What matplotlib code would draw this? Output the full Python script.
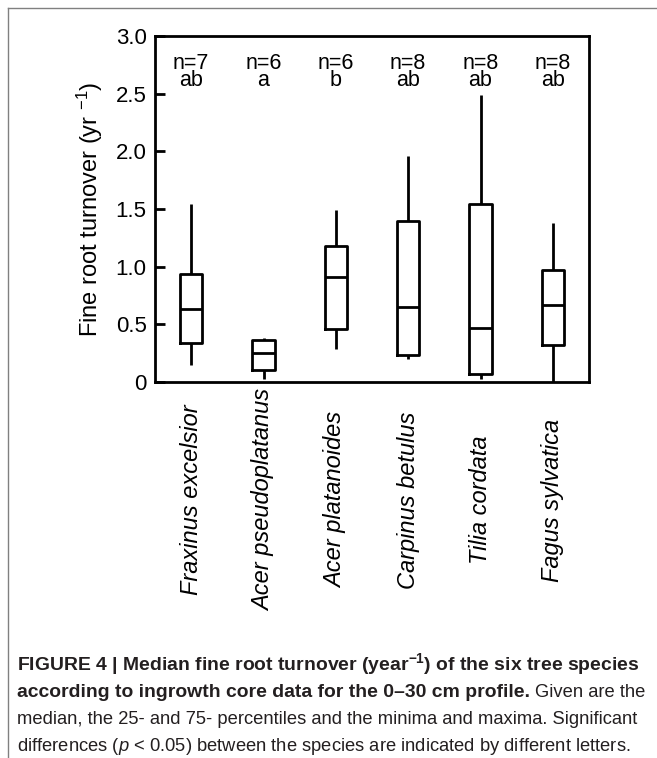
import matplotlib
matplotlib.use('Agg')
import matplotlib.pyplot as plt
from matplotlib import font_manager
from matplotlib.lines import Line2D

# ---------------- data ----------------
species = ['Fraxinus excelsior', 'Acer pseudoplatanus', 'Acer platanoides',
           'Carpinus betulus', 'Tilia cordata', 'Fagus sylvatica']
n_labels = ['n=7', 'n=6', 'n=6', 'n=8', 'n=8', 'n=8']
letters = ['ab', 'a', 'b', 'ab', 'ab', 'ab']
minima = [0.15, 0.03, 0.29, 0.20, 0.03, 0.00]
q25 = [0.34, 0.10, 0.46, 0.23, 0.07, 0.32]
medians = [0.63, 0.25, 0.91, 0.65, 0.47, 0.67]
q75 = [0.94, 0.36, 1.18, 1.40, 1.54, 0.97]
maxima = [1.54, 0.38, 1.49, 1.96, 2.49, 1.38]
yticks = [0, 0.5, 1.0, 1.5, 2.0, 2.5, 3.0]
yticklabels = ['0', '0.5', '1.0', '1.5', '2.0', '2.5', '3.0']

caption_l1 = r'FIGURE 4 | Median fine root turnover (year$^{\mathbf{-1}}$) of the six tree species'
caption_l2_bold = 'according to ingrowth core data for the 0\u201330 cm profile.'
caption_l2_reg = 'Given are the'
caption_l3 = 'median, the 25- and 75- percentiles and the minima and maxima. Significant'
caption_l4 = r'differences ($p$ < 0.05) between the species are indicated by different letters.'

# ---------------- fonts ----------------
names = {f.name for f in font_manager.fontManager.ttflist}
base_font = 'Liberation Sans' if 'Liberation Sans' in names else 'DejaVu Sans'
cap_font = 'Liberation Sans Narrow' if 'Liberation Sans Narrow' in names else base_font

plt.rcParams['font.family'] = [base_font, 'DejaVu Sans']
plt.rcParams['mathtext.fontset'] = 'custom'
plt.rcParams['mathtext.rm'] = base_font
plt.rcParams['mathtext.it'] = cap_font + ':italic'
plt.rcParams['mathtext.bf'] = cap_font + ':bold'

W, H = 657, 758
fig = plt.figure(figsize=(W / 100, H / 100), dpi=100)
ax = fig.add_axes([155 / W, 1 - 382 / H, (589 - 155) / W, (382 - 36) / H])

positions = list(range(1, len(species) + 1))
stats = [dict(whislo=mn, q1=a, med=m, q3=b, whishi=mx, fliers=[])
         for mn, a, m, b, mx in zip(minima, q25, medians, q75, maxima)]
lw = 2.0
ax.bxp(stats, positions=positions, widths=0.31, showfliers=False, showcaps=False,
       boxprops=dict(color='black', linewidth=lw),
       whiskerprops=dict(color='black', linewidth=lw, solid_capstyle='butt'),
       medianprops=dict(color='black', linewidth=lw))

ax.set_xlim(0.5, 6.5)
ax.set_ylim(0, 3.0)
ax.set_yticks(yticks)
ax.set_yticklabels(yticklabels)
ax.tick_params(axis='y', direction='in', length=7.5, width=2, labelsize=16, pad=6)
ax.set_xticks(positions)
ax.set_xticklabels(species, rotation=90, va='center', ha='center', fontstyle='italic')
ax.tick_params(axis='x', length=0, labelsize=17, pad=85)
for s in ax.spines.values():
    s.set_linewidth(2)

# n and significance letters stacked in one label per box
for p, nl, lt in zip(positions, n_labels, letters):
    ax.text(p, 2.566, nl + '\n' + lt, ha='center', va='baseline', fontsize=15.5,
            linespacing=0.76, multialignment='center')

ax.set_ylabel('Fine root turnover (yr $^{-1}$)', fontsize=17, labelpad=8)

# outer frame (top and left visible)
fig.add_artist(Line2D([8 / W, 1.0], [1 - 8 / H, 1 - 8 / H], transform=fig.transFigure,
                      color='#808080', lw=1.0))
fig.add_artist(Line2D([8 / W, 8 / W], [0.0, 1 - 8 / H], transform=fig.transFigure,
                      color='#808080', lw=1.0))

# ---------------- caption ----------------
renderer = fig.canvas.get_renderer()
cap_color = '#231f20'
x0 = 17 / W
base = [670, 697, 724, 751]


def width_at(text, size, **kw):
    t = fig.text(x0, 0.5, text, fontsize=size, family=cap_font, **kw)
    w = t.get_window_extent(renderer).width
    t.remove()
    return w


cs_bold = 13 * 622 / width_at(caption_l1, 13, fontweight='bold')
cs_reg = min(13 * 620 / width_at(caption_l3, 13),
             13 * 612 / width_at(caption_l4, 13))

fig.text(x0, 1 - base[0] / H, caption_l1, fontsize=cs_bold, fontweight='bold',
         family=cap_font, color=cap_color, va='baseline')
t = fig.text(x0, 1 - base[1] / H, caption_l2_bold, fontsize=cs_bold, fontweight='bold',
             family=cap_font, color=cap_color, va='baseline')
wb = t.get_window_extent(renderer).width
sp = width_at('x x', cs_reg) - width_at('xx', cs_reg)
fig.text(x0 + (wb + sp) / W, 1 - base[1] / H, caption_l2_reg, fontsize=cs_reg,
         family=cap_font, color=cap_color, va='baseline')
fig.text(x0, 1 - base[2] / H, caption_l3, fontsize=cs_reg, family=cap_font,
         color=cap_color, va='baseline')
fig.text(x0, 1 - base[3] / H, caption_l4, fontsize=cs_reg, family=cap_font,
         color=cap_color, va='baseline')

fig.savefig('out.png', dpi=100)
